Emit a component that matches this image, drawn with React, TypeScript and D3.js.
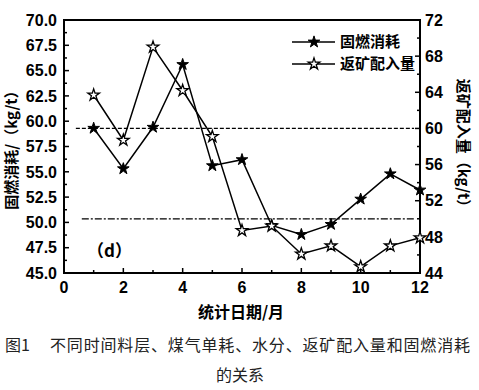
import React from "react";
import * as d3 from "d3";

const months = [1, 2, 3, 4, 5, 6, 7, 8, 9, 10, 11, 12];
const fuelUse = [59.3, 55.3, 59.4, 65.6, 55.6, 56.2, 49.7, 48.8, 49.8, 52.3, 54.8, 53.2];
const returnOre = [63.7, 58.7, 69.0, 64.2, 59.1, 48.7, 49.2, 46.1, 47.0, 44.7, 47.0, 47.9];
const leftTicks = [45, 47.5, 50, 52.5, 55, 57.5, 60, 62.5, 65, 67.5, 70];
const rightTicks = [44, 48, 52, 56, 60, 64, 68, 72];
const xTicks = [0, 2, 4, 6, 8, 10, 12];
const refDashed = 60; // right axis
const refDashDot = 50; // right axis

const W = 479;
const H = 390;
const m = { left: 64, right: 420, top: 20, bottom: 273 };
const numFont = "'Liberation Sans', Arial, sans-serif";
const cjkFont = "'Noto Sans CJK SC', sans-serif";

export default function App() {
  const x = d3.scaleLinear().domain([0, 12]).range([m.left, m.right]);
  const yL = d3.scaleLinear().domain([45, 70]).range([m.bottom, m.top]);
  const yR = d3.scaleLinear().domain([44, 72]).range([m.bottom, m.top]);

  const lineL = d3.line<number>().x((_, i) => x(months[i])).y((d) => yL(d));
  const lineR = d3.line<number>().x((_, i) => x(months[i])).y((d) => yR(d));
  const star = d3.symbol().type(d3.symbolStar).size(42)();

  const leftMinor = d3.range(46.25, 70, 2.5);
  const rightMinor = d3.range(46, 72, 4);
  const xMinor = d3.range(1, 12, 2);

  return (
    <svg width={W} height={H} style={{ position: "absolute", left: 0, top: 0, background: "#fff" }}>
      {/* reference lines */}
      <line x1={x(0.4)} x2={x(11.8)} y1={yR(refDashed)} y2={yR(refDashed)} stroke="#000" strokeWidth={1.3} strokeDasharray="4,2" />
      <line x1={x(0.6)} x2={x(11.8)} y1={yR(refDashDot)} y2={yR(refDashDot)} stroke="#000" strokeWidth={1.3} strokeDasharray="7,2,2,2" />

      {/* frame */}
      <rect x={m.left} y={m.top} width={m.right - m.left} height={m.bottom - m.top} fill="none" stroke="#000" strokeWidth={2} />

      {/* left ticks */}
      {leftTicks.map((t) => (
        <g key={"l" + t}>
          <line x1={m.left} x2={m.left + 5} y1={yL(t)} y2={yL(t)} stroke="#000" strokeWidth={1.5} />
          <text x={m.left - 7} y={yL(t)} dy="0.36em" textAnchor="end" fontFamily={numFont} fontWeight="bold" fontSize={16}>
            {t.toFixed(1)}
          </text>
        </g>
      ))}
      {leftMinor.map((t) => (
        <line key={"lm" + t} x1={m.left} x2={m.left + 3} y1={yL(t)} y2={yL(t)} stroke="#000" strokeWidth={1.5} />
      ))}

      {/* right ticks */}
      {rightTicks.map((t) => (
        <g key={"r" + t}>
          <line x1={m.right} x2={m.right - 5} y1={yR(t)} y2={yR(t)} stroke="#000" strokeWidth={1.5} />
          <text x={m.right + 5} y={yR(t)} dy="0.36em" textAnchor="start" fontFamily={numFont} fontWeight="bold" fontSize={16}>
            {t}
          </text>
        </g>
      ))}
      {rightMinor.map((t) => (
        <line key={"rm" + t} x1={m.right} x2={m.right - 3} y1={yR(t)} y2={yR(t)} stroke="#000" strokeWidth={1.5} />
      ))}

      {/* bottom ticks */}
      {xTicks.map((t) => (
        <g key={"x" + t}>
          <line x1={x(t)} x2={x(t)} y1={m.bottom} y2={m.bottom - 5} stroke="#000" strokeWidth={1.5} />
          <text x={x(t)} y={m.bottom + 20} textAnchor="middle" fontFamily={numFont} fontWeight="bold" fontSize={16}>
            {t}
          </text>
        </g>
      ))}
      {xMinor.map((t) => (
        <line key={"xm" + t} x1={x(t)} x2={x(t)} y1={m.bottom} y2={m.bottom - 3} stroke="#000" strokeWidth={1.5} />
      ))}

      {/* series */}
      <path d={lineL(fuelUse) ?? ""} fill="none" stroke="#000" strokeWidth={1.5} />
      <path d={lineR(returnOre) ?? ""} fill="none" stroke="#000" strokeWidth={1.5} />
      {fuelUse.map((v, i) => (
        <path key={"f" + i} d={star ?? ""} transform={`translate(${x(months[i])},${yL(v)})`} fill="#000" stroke="#000" strokeWidth={1} />
      ))}
      {returnOre.map((v, i) => (
        <path key={"o" + i} d={star ?? ""} transform={`translate(${x(months[i])},${yR(v)})`} fill="#fff" stroke="#000" strokeWidth={1.3} />
      ))}

      {/* legend */}
      <g fontFamily={cjkFont} fontWeight="bold" fontSize={15}>
        <line x1={292} x2={335} y1={42} y2={42} stroke="#000" strokeWidth={1.5} />
        <path d={star ?? ""} transform="translate(314,42)" fill="#000" stroke="#000" />
        <text x={340} y={42} dy="0.36em">固燃消耗</text>
        <line x1={292} x2={335} y1={64} y2={64} stroke="#000" strokeWidth={1.5} />
        <path d={star ?? ""} transform="translate(314,64)" fill="#fff" stroke="#000" strokeWidth={1.3} />
        <text x={340} y={64} dy="0.36em">返矿配入量</text>
      </g>

      <text x={87} y={251} dy="0.36em" fontFamily={cjkFont} fontWeight="bold" fontSize={17}>（d）</text>

      {/* axis titles */}
      <text x={241} y={312} dy="0.36em" textAnchor="middle" fontFamily={cjkFont} fontWeight="bold" fontSize={16}>统计日期/月</text>
      <text transform={`translate(12,${(m.top + m.bottom) / 2}) rotate(-90)`} dy="0.36em" textAnchor="middle" fontFamily={cjkFont} fontWeight="bold" fontSize={15}>
        固燃消耗/（kg/t）
      </text>
      <text transform={`translate(463,${(m.top + m.bottom) / 2}) rotate(90)`} dy="0.36em" textAnchor="middle" fontFamily={cjkFont} fontWeight="bold" fontSize={15}>
        返矿配入量（kg/t）
      </text>

      {/* caption */}
      <g fontFamily={cjkFont} fontSize={16} fill="#222">
        <text x={5} y={345} dy="0.36em">图1</text>
        <text x={50} y={345} dy="0.36em" textLength={420} lengthAdjust="spacing">不同时间料层、煤气单耗、水分、返矿配入量和固燃消耗</text>
        <text x={240} y={375} dy="0.36em" textAnchor="middle">的关系</text>
      </g>
    </svg>
  );
}
